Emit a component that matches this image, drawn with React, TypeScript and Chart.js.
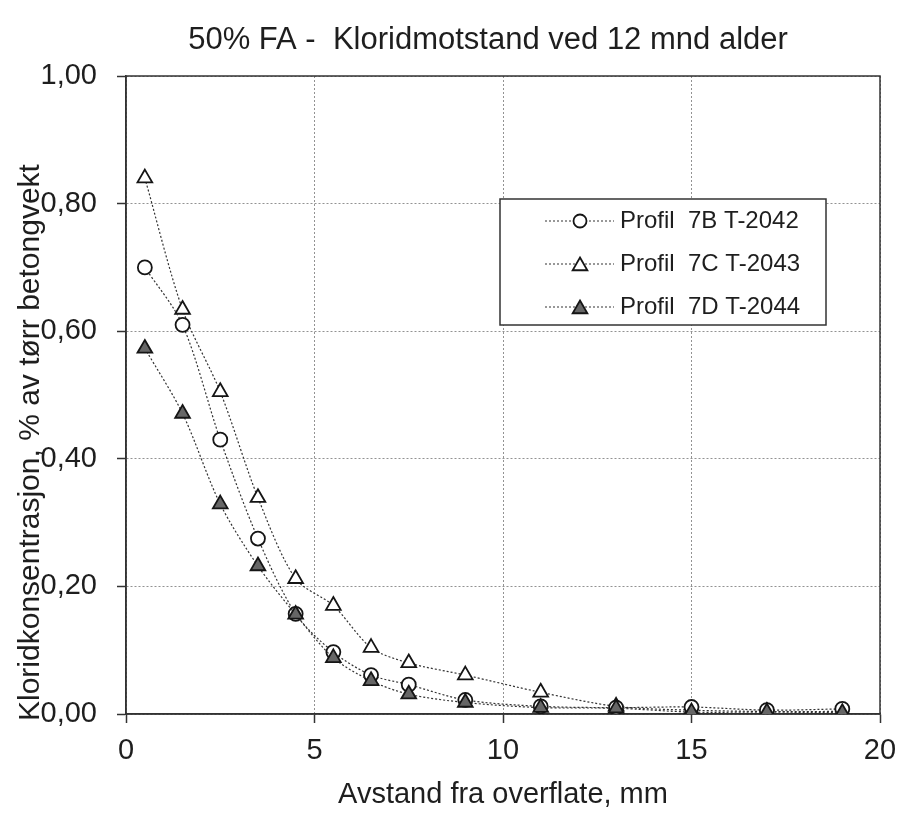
import { useEffect, useRef } from "react";
import { Chart, registerables } from "chart.js";

Chart.register(...registerables);

// Depth below the surface (mm) for each sampled slice
const depthMm = [0.5, 1.5, 2.5, 3.5, 4.5, 5.5, 6.5, 7.5, 9, 11, 13, 15, 17, 19];

// Chloride content, % of dry concrete weight
const profil7B = [0.70, 0.61, 0.43, 0.275, 0.157, 0.097, 0.061, 0.046, 0.022, 0.012, 0.010, 0.011, 0.006, 0.008];
const profil7C = [0.84, 0.634, 0.505, 0.339, 0.212, 0.170, 0.104, 0.080, 0.061, 0.034, 0.012, 0.006, 0.004, 0.004];
const profil7D = [0.573, 0.471, 0.329, 0.232, 0.156, 0.088, 0.052, 0.031, 0.018, 0.010, 0.009, 0.003, 0.003, 0.002];

const seriesLabels = ["Profil  7B T-2042", "Profil  7C T-2043", "Profil  7D T-2044"];

const xTicks = [0, 5, 10, 15, 20];
const yTicks = [0, 0.2, 0.4, 0.6, 0.8, 1.0];

const chartTitle = "50% FA -  Kloridmotstand ved 12 mnd alder";
const xTitle = "Avstand fra overflate, mm";
const yTitle = "Kloridkonsentrasjon, % av tørr betongvekt";

const FONT = '"Liberation Sans", Arial, Helvetica, sans-serif';
const INK = "#1e1e1e";
const AXIS = "#333";
const GRID = "rgba(110,110,110,0.75)";

const fmtComma = (v: number) => v.toFixed(2).replace(".", ",");

function markerPath(ctx: CanvasRenderingContext2D, style: string, x: number, y: number, r: number) {
  ctx.beginPath();
  if (style === "circle") {
    ctx.arc(x, y, r, 0, Math.PI * 2);
  } else {
    for (let k = 0; k < 3; k++) {
      const a = (k * 2 * Math.PI) / 3;
      const px = x + Math.sin(a) * r;
      const py = y - Math.cos(a) * r;
      if (k === 0) ctx.moveTo(px, py);
      else ctx.lineTo(px, py);
    }
    ctx.closePath();
  }
}

const decorPlugin = {
  id: "decor",
  beforeDatasetsDraw(chart: any) {
    const { ctx, chartArea: a } = chart;
    ctx.save();
    ctx.strokeStyle = AXIS;
    ctx.lineWidth = 1.5;
    ctx.strokeRect(a.left, a.top, a.right - a.left, a.bottom - a.top);
    ctx.restore();
  },
  afterDraw(chart: any) {
    const { ctx } = chart;
    ctx.save();
    ctx.fillStyle = INK;

    // chart heading
    ctx.font = `31px ${FONT}`;
    ctx.textAlign = "center";
    ctx.textBaseline = "alphabetic";
    ctx.fillText(chartTitle, 488, 49);

    // vertical axis title
    ctx.save();
    ctx.translate(39, 721);
    ctx.rotate(-Math.PI / 2);
    ctx.font = `30px ${FONT}`;
    ctx.textAlign = "left";
    ctx.fillText(yTitle, 0, 0);
    ctx.restore();

    // legend box
    const box = { x: 500, y: 199, w: 326, h: 126 };
    ctx.fillStyle = "#fff";
    ctx.fillRect(box.x, box.y, box.w, box.h);
    ctx.strokeStyle = AXIS;
    ctx.lineWidth = 1.5;
    ctx.strokeRect(box.x, box.y, box.w, box.h);

    const rows = [221, 264, 307];
    chart.data.datasets.forEach((ds: any, i: number) => {
      const y = rows[i];
      ctx.save();
      ctx.strokeStyle = ds.borderColor;
      ctx.lineWidth = ds.borderWidth;
      ctx.setLineDash(ds.borderDash);
      ctx.beginPath();
      ctx.moveTo(545, y);
      ctx.lineTo(614, y);
      ctx.stroke();
      ctx.restore();

      ctx.save();
      ctx.strokeStyle = ds.pointBorderColor;
      ctx.lineWidth = ds.pointBorderWidth;
      ctx.fillStyle = ds.pointBackgroundColor;
      markerPath(ctx, ds.pointStyle, 580, ds.pointStyle === "circle" ? y : y + 2, ds.pointStyle === "circle" ? 6.5 : 8.5);
      ctx.fill();
      ctx.stroke();
      ctx.restore();

      ctx.fillStyle = INK;
      ctx.font = `24px ${FONT}`;
      ctx.textAlign = "left";
      ctx.textBaseline = "middle";
      ctx.fillText(ds.label, 620, y);
    });
    ctx.restore();
  },
};

function toPoints(vals: number[]) {
  return depthMm.map((x, i) => ({ x, y: vals[i] }));
}

const lineBase = {
  borderColor: "#333333",
  borderWidth: 1.2,
  borderDash: [2, 2],
  tension: 0.3,
  fill: false,
  pointBorderColor: "#151515",
  pointBorderWidth: 1.8,
};

export default function App() {
  const canvasRef = useRef<HTMLCanvasElement | null>(null);

  useEffect(() => {
    document.body.style.margin = "0";
    const canvas = canvasRef.current;
    if (!canvas) return;

    const tickFont = { family: FONT, size: 29 };

    const chart = new Chart(canvas, {
      type: "line",
      data: {
        datasets: [
          {
            ...lineBase,
            label: seriesLabels[0],
            data: toPoints(profil7B),
            pointStyle: "circle",
            pointRadius: 7,
            pointHoverRadius: 7,
            pointBackgroundColor: "#ffffff",
            order: 1,
          },
          {
            ...lineBase,
            label: seriesLabels[1],
            data: toPoints(profil7C),
            pointStyle: "triangle",
            pointRadius: 8.5,
            pointHoverRadius: 8.5,
            pointBackgroundColor: "#ffffff",
            order: 2,
          },
          {
            ...lineBase,
            label: seriesLabels[2],
            data: toPoints(profil7D),
            pointStyle: "triangle",
            pointRadius: 8.5,
            pointHoverRadius: 8.5,
            pointBackgroundColor: "#666666",
            order: 0,
          },
        ] as any,
      },
      options: {
        animation: false,
        responsive: false,
        devicePixelRatio: 1,
        layout: { padding: { top: 76, right: 19, left: 0, bottom: 0 } },
        plugins: {
          legend: { display: false },
          title: { display: false },
          tooltip: { enabled: false },
        },
        scales: {
          x: {
            type: "linear",
            min: 0,
            max: 20,
            afterBuildTicks: (s: any) => {
              s.ticks = xTicks.map((value) => ({ value }));
            },
            afterFit: (s: any) => {
              s.height = 99;
              s.paddingLeft = 0;
              s.paddingRight = 0;
            },
            ticks: {
              font: tickFont,
              color: INK,
              padding: 11,
              maxRotation: 0,
              autoSkip: false,
            },
            grid: {
              color: GRID,
              lineWidth: 1,
              tickLength: 9,
              tickColor: AXIS,
              tickWidth: 1.5,
            },
            border: { display: true, color: AXIS, width: 1.5, dash: [2, 2] },
            title: {
              display: true,
              text: xTitle,
              font: { family: FONT, size: 29 },
              color: INK,
              padding: { top: 0, bottom: 1 },
            },
          },
          y: {
            type: "linear",
            min: 0,
            max: 1,
            afterBuildTicks: (s: any) => {
              s.ticks = yTicks.map((value) => ({ value }));
            },
            afterFit: (s: any) => {
              s.width = 126;
              s.paddingTop = 0;
              s.paddingBottom = 0;
            },
            ticks: {
              font: tickFont,
              color: INK,
              padding: 20,
              callback: (v: any) => fmtComma(Number(v)),
            },
            grid: {
              color: GRID,
              lineWidth: 1,
              tickLength: 9,
              tickColor: AXIS,
              tickWidth: 1.5,
            },
            border: { display: true, color: AXIS, width: 1.5, dash: [2, 2] },
          },
        },
      } as any,
      plugins: [decorPlugin],
    });

    return () => chart.destroy();
  }, []);

  return <canvas ref={canvasRef} width={899} height={813} style={{ display: "block" }} />;
}
